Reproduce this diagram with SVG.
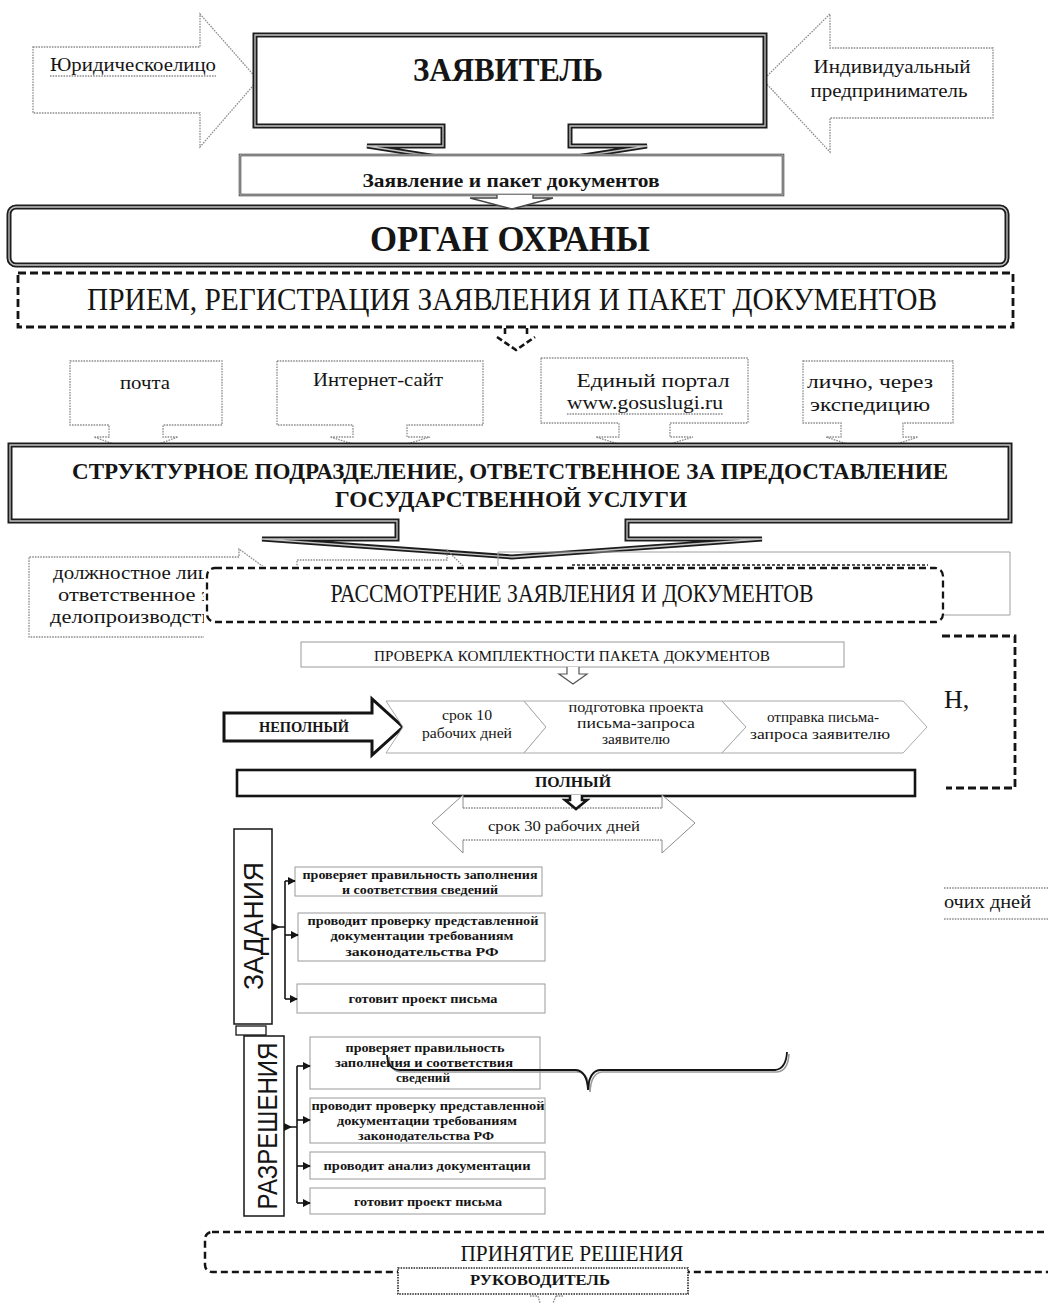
<svg xmlns="http://www.w3.org/2000/svg" width="1048" height="1303" viewBox="0 0 1048 1303">
<defs>
<style>
.sf{font-family:"Liberation Serif","Times New Roman",serif;fill:#151515}
.ss{font-family:"Liberation Sans",Arial,sans-serif;fill:#151515}
.b{font-weight:bold}
.c{text-anchor:middle}
.dot{fill:#fff;stroke:#8c8c8c;stroke-width:1.3;stroke-dasharray:1.6 1.1}
.dotn{fill:none;stroke:#8c8c8c;stroke-width:1.3;stroke-dasharray:1.6 1.1}
.dblo{fill:#fff;stroke:#1c1c1c;stroke-width:5}
.dbli{fill:none;stroke:#c4c4c4;stroke-width:1.3}
.dash{fill:none;stroke:#141414;stroke-width:2.8;stroke-dasharray:8 4}
.thin{fill:#fff;stroke:#9a9a9a;stroke-width:1}
.con{fill:none;stroke:#141414;stroke-width:1.6}
</style>
<marker id="ah" viewBox="0 0 10 10" refX="9" refY="5" markerWidth="8" markerHeight="8" orient="auto" markerUnits="userSpaceOnUse"><path d="M0,0 L10,5 L0,10 Z" fill="#141414"/></marker>
</defs>
<rect x="0" y="0" width="1048" height="1303" fill="#fff"/>

<g id="applicant-legal">
<path class="dot" d="M33,47 H200 V14 L258,80 L200,147 V113 H33 Z"/>
<text class="sf" x="50" y="71" font-size="18" textLength="166" lengthAdjust="spacingAndGlyphs">Юридическоелицо</text>
<line class="dotn" x1="50" y1="76" x2="216" y2="76"/>
</g>

<g id="applicant-ip">
<path class="dot" d="M993,48 H830 V14 L763,80 L830,152 V118 H993 Z"/>
<text class="sf c" x="892" y="73" font-size="18" textLength="157" lengthAdjust="spacingAndGlyphs">Индивидуальный</text>
<text class="sf c" x="889" y="97" font-size="18" textLength="157" lengthAdjust="spacingAndGlyphs">предприниматель</text>
</g>

<g id="zayavitel">
<path class="dblo" d="M255,35 H765 V126 H570 V146 H647 L507,168 L367,146 H443 V126 H255 Z"/>
<path class="dbli" d="M255,35 H765 V126 H570 V146 H647 L507,168 L367,146 H443 V126 H255 Z"/>
<text class="sf b c" x="508" y="81" font-size="33" textLength="190" lengthAdjust="spacingAndGlyphs">ЗАЯВИТЕЛЬ</text>
</g>

<g id="package">
<rect x="240" y="155" width="543" height="40" fill="#fff" stroke="#4a4a4a" stroke-width="2.6"/>
<rect x="240" y="155" width="543" height="40" fill="none" stroke="#d4d4d4" stroke-width="0.8"/>
<text class="sf b c" x="511" y="187" font-size="19" textLength="297" lengthAdjust="spacingAndGlyphs">Заявление и пакет документов</text>
</g>

<g id="organ">
<rect class="dblo" x="9" y="207" width="998" height="58" rx="7"/>
<rect class="dbli" x="9" y="207" width="998" height="58" rx="7"/>
<text class="sf b c" x="510" y="251" font-size="35" textLength="280" lengthAdjust="spacingAndGlyphs">ОРГАН ОХРАНЫ</text>
</g>

<g id="reception">
<rect class="dash" x="18" y="273" width="995" height="54" stroke-width="3"/>
<text class="sf c" x="512" y="310" font-size="32" textLength="850" lengthAdjust="spacingAndGlyphs">ПРИЕМ, РЕГИСТРАЦИЯ ЗАЯВЛЕНИЯ И ПАКЕТ ДОКУМЕНТОВ</text>
</g>

<g id="channel-mail">
<path class="dot" d="M70,361 H222 V425 H163 V437 H178 L136,452 L94,437 H109 V425 H70 Z"/>
<text class="sf c" x="145" y="389" font-size="19" textLength="50" lengthAdjust="spacingAndGlyphs">почта</text>
</g>
<g id="channel-site">
<path class="dot" d="M277,361 H483 V425 H407 V437 H430 L380,452 L330,437 H353 V425 H277 Z"/>
<text class="sf c" x="378" y="386" font-size="19" textLength="130" lengthAdjust="spacingAndGlyphs">Интернет-сайт</text>
</g>
<g id="channel-portal">
<path class="dot" d="M541,358 H748 V423 H670 V437 H693 L644,452 L596,437 H619 V423 H541 Z"/>
<text class="sf c" x="653" y="387" font-size="19" textLength="153" lengthAdjust="spacingAndGlyphs">Единый портал</text>
<text class="sf c" x="645" y="409" font-size="19" textLength="156" lengthAdjust="spacingAndGlyphs">www.gosuslugi.ru</text>
<line class="dotn" x1="567" y1="414" x2="723" y2="414"/>
</g>
<g id="channel-personal">
<path class="dot" d="M803,361 H953 V423 H903 V437 H918 L872,452 L826,437 H841 V423 H803 Z"/>
<text class="sf c" x="870" y="388" font-size="19" textLength="126" lengthAdjust="spacingAndGlyphs">лично, через</text>
<text class="sf c" x="870" y="411" font-size="19" textLength="120" lengthAdjust="spacingAndGlyphs">экспедицию</text>
</g>

<g id="structural-unit">
<path class="dblo" d="M10,445 H1010 V521 H627 V539 H762 L512,557 L262,539 H397 V521 H10 Z"/>
<path class="dbli" d="M10,445 H1010 V521 H627 V539 H762 L512,557 L262,539 H397 V521 H10 Z"/>
<text class="sf b c" x="510" y="479" font-size="23" textLength="876" lengthAdjust="spacingAndGlyphs">СТРУКТУРНОЕ ПОДРАЗДЕЛЕНИЕ, ОТВЕТСТВЕННОЕ ЗА ПРЕДОСТАВЛЕНИЕ</text>
<text class="sf b c" x="511" y="507" font-size="23" textLength="352" lengthAdjust="spacingAndGlyphs">ГОСУДАРСТВЕННОЙ УСЛУГИ</text>
</g>

<g id="hidden-layer">
<path class="dotn" d="M205,637 H29 V557 H239 V549 L265,568"/>
<text class="sf" x="53" y="579" font-size="18" fill="#333" textLength="156" lengthAdjust="spacingAndGlyphs">должностное лиц</text>
<text class="sf" x="58" y="601" font-size="18" fill="#333" textLength="152" lengthAdjust="spacingAndGlyphs">ответственное з</text>
<text class="sf" x="50" y="623" font-size="18" fill="#333" textLength="162" lengthAdjust="spacingAndGlyphs">делопроизводств</text>
<path class="dotn" d="M297,568 V560 H447 V550 L465,568"/>
<path fill="none" stroke="#a0a0a0" stroke-width="1" d="M498,568 V552 H1010 V615 H940"/>
<line x1="572" y1="565" x2="928" y2="565" stroke="#555" stroke-width="2" stroke-dasharray="3 2"/>
</g>

<rect id="cover" x="204" y="566" width="740" height="74" fill="#fff"/>

<g id="review">
<rect x="207" y="568" width="736" height="54" rx="8" fill="#fff" stroke="#141414" stroke-width="2.3" stroke-dasharray="7 4"/>
<text class="sf c" x="572" y="602" font-size="25" textLength="483" lengthAdjust="spacingAndGlyphs">РАССМОТРЕНИЕ ЗАЯВЛЕНИЯ И ДОКУМЕНТОВ</text>
</g>

<g id="right-bracket">
<path class="dash" stroke-width="3" d="M942,636 H1015 V788 H946"/>
<text class="sf" x="944" y="708" font-size="26">Н,</text>
</g>

<g id="completeness-check">
<rect class="thin" x="301" y="642" width="543" height="25" stroke="#777"/>
<text class="sf c" x="572" y="661" font-size="14" textLength="396" lengthAdjust="spacingAndGlyphs">ПРОВЕРКА КОМПЛЕКТНОСТИ ПАКЕТА ДОКУМЕНТОВ</text>
</g>

<g id="incomplete">
<path fill="#fff" stroke="#141414" stroke-width="3" d="M224,713 H372 V699 L403,727 L372,755 V741 H224 Z"/>
<text class="sf b c" x="304" y="732" font-size="14" textLength="90" lengthAdjust="spacingAndGlyphs">НЕПОЛНЫЙ</text>
</g>

<g id="step-term10">
<polygon fill="#fff" stroke="#aaa" stroke-width="1" points="386,701 524,701 546,727 524,753 386,753 403,727"/>
<text class="sf c" x="467" y="720" font-size="15.5" textLength="50" lengthAdjust="spacingAndGlyphs">срок 10</text>
<text class="sf c" x="467" y="738" font-size="15.5" textLength="90" lengthAdjust="spacingAndGlyphs">рабочих дней</text>
</g>
<g id="step-prepare">
<polygon fill="#fff" stroke="#aaa" stroke-width="1" points="524,701 722,701 746,727 722,753 524,753 546,727"/>
<text class="sf c" x="636" y="712" font-size="15.5" textLength="135" lengthAdjust="spacingAndGlyphs">подготовка проекта</text>
<text class="sf c" x="636" y="728" font-size="15.5" textLength="118" lengthAdjust="spacingAndGlyphs">письма-запроса</text>
<text class="sf c" x="636" y="744" font-size="15.5" textLength="68" lengthAdjust="spacingAndGlyphs">заявителю</text>
</g>
<g id="step-send">
<polygon fill="#fff" stroke="#aaa" stroke-width="1" points="722,701 903,701 927,727 903,753 722,753 746,727"/>
<text class="sf c" x="823" y="722" font-size="15.5" textLength="112" lengthAdjust="spacingAndGlyphs">отправка письма-</text>
<text class="sf c" x="820" y="739" font-size="15.5" textLength="140" lengthAdjust="spacingAndGlyphs">запроса заявителю</text>
</g>

<g id="complete">
<rect x="237" y="770" width="678" height="26" fill="#fff" stroke="#141414" stroke-width="2.6"/>
<text class="sf b c" x="573" y="787" font-size="14" textLength="76" lengthAdjust="spacingAndGlyphs">ПОЛНЫЙ</text>
</g>

<g id="term30">
<polygon fill="#fff" points="432,823 463,795 463,808 662,808 662,795 695,823 662,853 662,840 463,840 463,853"/>
<path fill="none" stroke="#8c8c8c" stroke-width="1" d="M463,808 V795 L432,823 L463,853 V840 M662,808 V795 L695,823 L662,853 V840"/>
<path class="dotn" d="M463,808 H662 M463,840 H662"/>
<text class="sf c" x="564" y="831" font-size="15" textLength="152" lengthAdjust="spacingAndGlyphs">срок  30 рабочих дней</text>
</g>

<g id="term-right">
<line class="dotn" x1="944" y1="888" x2="1048" y2="888"/>
<line class="dotn" x1="944" y1="919" x2="1048" y2="919"/>
<text class="sf" x="944" y="908" font-size="18" fill="#333" textLength="87" lengthAdjust="spacingAndGlyphs">очих дней</text>
</g>

<g id="tasks">
<rect x="234" y="829" width="38" height="195" fill="#fff" stroke="#141414" stroke-width="1.5"/>
<text class="ss c" transform="translate(263,926) rotate(-90)" font-size="28" textLength="128" lengthAdjust="spacingAndGlyphs">ЗАДАНИЯ</text>
</g>
<g id="task-1">
<rect class="thin" x="295" y="867" width="247" height="29"/>
<text class="sf b c" x="420" y="879" font-size="13" textLength="235" lengthAdjust="spacingAndGlyphs">проверяет правильность заполнения</text>
<text class="sf b c" x="420" y="894" font-size="13" textLength="156" lengthAdjust="spacingAndGlyphs">и соответствия  сведений</text>
</g>
<g id="task-2">
<rect class="thin" x="298" y="913" width="247" height="48"/>
<text class="sf b c" x="423" y="925" font-size="13" textLength="231" lengthAdjust="spacingAndGlyphs">проводит проверку представленной</text>
<text class="sf b c" x="422" y="940" font-size="13" textLength="183" lengthAdjust="spacingAndGlyphs">документации требованиям</text>
<text class="sf b c" x="422" y="956" font-size="13" textLength="153" lengthAdjust="spacingAndGlyphs">законодательства РФ</text>
</g>
<g id="task-3">
<rect class="thin" x="297" y="984" width="248" height="29"/>
<text class="sf b c" x="423" y="1003" font-size="13" textLength="149" lengthAdjust="spacingAndGlyphs">готовит проект письма</text>
</g>

<rect id="small-box" x="236" y="1026" width="30" height="9" fill="#fff" stroke="#141414" stroke-width="1.3"/>

<g id="permits">
<rect x="244" y="1036" width="40" height="180" fill="#fff" stroke="#141414" stroke-width="1.5"/>
<text class="ss c" transform="translate(277,1126) rotate(-90)" font-size="28" textLength="167" lengthAdjust="spacingAndGlyphs">РАЗРЕШЕНИЯ</text>
</g>
<g id="permit-1">
<rect class="thin" x="310" y="1037" width="230" height="52"/>
<text class="sf b c" x="425" y="1052" font-size="13" textLength="159" lengthAdjust="spacingAndGlyphs">проверяет правильность</text>
<text class="sf b c" x="424" y="1067" font-size="13" textLength="178" lengthAdjust="spacingAndGlyphs">заполнения  и соответствия</text>
<text class="sf b c" x="423" y="1082" font-size="13" textLength="54" lengthAdjust="spacingAndGlyphs">сведений</text>
</g>
<g id="permit-2">
<rect class="thin" x="310" y="1098" width="235" height="45"/>
<text class="sf b c" x="428" y="1110" font-size="13" textLength="233" lengthAdjust="spacingAndGlyphs">проводит проверку представленной</text>
<text class="sf b c" x="427" y="1125" font-size="13" textLength="180" lengthAdjust="spacingAndGlyphs">документации требованиям</text>
<text class="sf b c" x="426" y="1140" font-size="13" textLength="136" lengthAdjust="spacingAndGlyphs">законодательства РФ</text>
</g>
<g id="permit-3">
<rect class="thin" x="310" y="1152" width="235" height="27"/>
<text class="sf b c" x="427" y="1170" font-size="13" textLength="207" lengthAdjust="spacingAndGlyphs">проводит анализ документации</text>
</g>
<g id="permit-4">
<rect class="thin" x="310" y="1188" width="235" height="26"/>
<text class="sf b c" x="428" y="1206" font-size="13" textLength="148" lengthAdjust="spacingAndGlyphs">готовит проект письма</text>
</g>

<g id="decision">
<rect x="205" y="1232" width="900" height="40" rx="7" fill="none" stroke="#141414" stroke-width="2.5" stroke-dasharray="7 4"/>
<text class="sf c" x="572" y="1261" font-size="24" textLength="223" lengthAdjust="spacingAndGlyphs">ПРИНЯТИЕ РЕШЕНИЯ</text>
</g>
<g id="head">
<rect x="398" y="1268" width="290" height="26" fill="#fff" stroke="#222" stroke-width="1.6" stroke-dasharray="1.5 1.1"/>
<text class="sf b c" x="540" y="1285" font-size="15" textLength="140" lengthAdjust="spacingAndGlyphs">РУКОВОДИТЕЛЬ</text>
</g>

<g id="connectors">
<path fill="#fff" stroke="#444" stroke-width="1.3" d="M497,195 V198 H470 L512,209 L553,198 H533 V195"/>
<path fill="none" stroke="#141414" stroke-width="2.6" stroke-dasharray="6 3" d="M505,328 V336 M527,328 V336 M497,337 L516,350 L535,337"/>
<path fill="#fff" stroke="#555" stroke-width="1.2" d="M567,667 V674 H559 L573,684 L587,674 H579 V667"/>
<path fill="#fff" stroke="#141414" stroke-width="2.6" d="M570,795 V800 H565 L576,809 L587,800 H582 V795"/>
<polygon points="272,923 280,927 272,931" fill="#141414"/>
<path class="con" d="M272,927 H285 M285,881 V999"/>
<path class="con" marker-end="url(#ah)" d="M285,881 H295"/>
<path class="con" marker-end="url(#ah)" d="M285,935 H298"/>
<path class="con" marker-end="url(#ah)" d="M285,999 H297"/>
<polygon points="284,1123 292,1127 284,1131" fill="#141414"/>
<path class="con" d="M284,1127 H297 M297,1066 V1203"/>
<path class="con" marker-end="url(#ah)" d="M297,1066 H310"/>
<path class="con" marker-end="url(#ah)" d="M297,1120 H310"/>
<path class="con" marker-end="url(#ah)" d="M297,1166 H310"/>
<path class="con" marker-end="url(#ah)" d="M297,1203 H310"/>
<path fill="none" stroke="#9a9a9a" stroke-width="1.6" d="M389,1057 Q390,1072 402,1072 L578,1072 Q589,1073 590,1092 Q591,1073 602,1072 L777,1072 Q788,1071 789,1054"/>
<path fill="none" stroke="#141414" stroke-width="1.8" d="M387,1055 Q388,1070 400,1070 L576,1070 Q587,1071 588,1090 Q589,1071 600,1070 L775,1070 Q786,1069 787,1052"/>
<path class="dotn" stroke="#444" d="M530,1296 H538 L540,1303 M556,1296 H563 M556,1296 L553,1303"/>
</g>
</svg>
